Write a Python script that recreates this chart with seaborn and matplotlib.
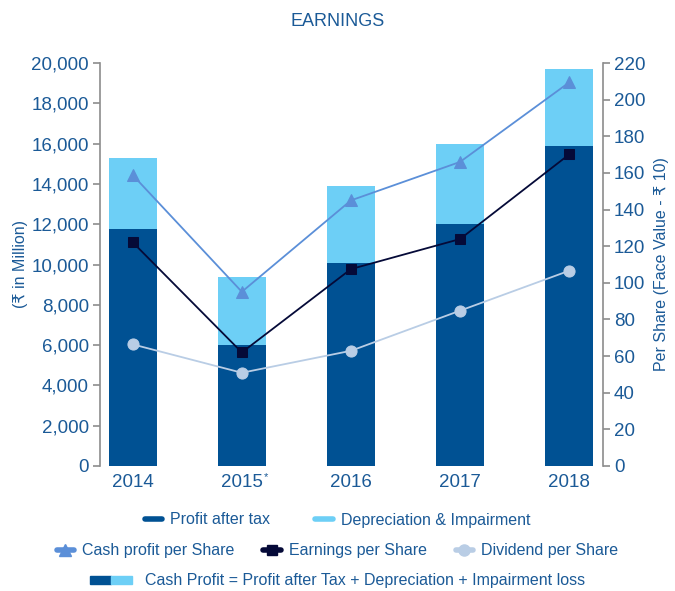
import matplotlib
matplotlib.use("Agg")
import matplotlib.pyplot as plt
import seaborn as sns
import pandas as pd
from matplotlib.lines import Line2D
from matplotlib.patches import Patch
from matplotlib.legend_handler import HandlerTuple

years = ["2014", "2015", "2016", "2017", "2018"]
profit_after_tax = [11760, 6000, 10090, 12000, 15900]
depreciation = [3520, 3380, 3810, 3980, 3800]
cash_profit_ps = [158.8, 95.1, 145.0, 166.0, 209.4]
eps = [122.1, 62.0, 107.5, 123.9, 170.1]
dps = [66.4, 50.9, 62.9, 84.8, 106.6]

DARK = "#005193"
LIGHT = "#6dcff6"
CASH = "#5b8fd8"
EPSC = "#050a38"
DPSC = "#b9cde5"
TXT = "#1b5a97"
GREY = "#8c8c8c"

sns.set_style("white")
plt.rcParams["font.family"] = ["Liberation Sans", "DejaVu Sans"]

df = pd.DataFrame({"Year": years, "PAT": profit_after_tax, "Dep": depreciation})
df["Total"] = df["PAT"] + df["Dep"]
ps = pd.DataFrame({"Year": years, "Cash": cash_profit_ps, "EPS": eps, "DPS": dps})

fig = plt.figure(figsize=(6.75, 5.91), dpi=100)
ax = fig.add_axes([100 / 675, 1 - 466 / 591, 503 / 675, 403 / 591])

sns.barplot(data=df, x="Year", y="Total", color=LIGHT, width=0.44, saturation=1,
            linewidth=0, ax=ax)
sns.barplot(data=df, x="Year", y="PAT", color=DARK, width=0.44, saturation=1,
            linewidth=0, ax=ax)

ax.set_ylim(0, 20000)
ax.set_xlim(-0.3, 4.31)
ax.set_yticks(range(0, 20001, 2000))
ax.set_yticklabels([f"{v:,}" for v in range(0, 20001, 2000)])
ax.set_xlabel("")
ax.set_ylabel("(₹ in Million)", color=TXT, fontsize=11.5, labelpad=2)
# footnote mark on 2015
ax.annotate("*", xy=(1, 0), xycoords=("data", "axes fraction"), xytext=(16, -4.5),
            textcoords="offset points", color=TXT, fontsize=8, ha="left", va="top")

ax2 = ax.twinx()
sns.lineplot(data=ps, x="Year", y="Cash", color=CASH, marker="^", markersize=8,
             markeredgecolor=CASH, linewidth=1.3, ax=ax2, sort=False)
sns.lineplot(data=ps, x="Year", y="EPS", color=EPSC, marker="s", markersize=7,
             markeredgecolor=EPSC, linewidth=1.3, ax=ax2, sort=False)
sns.lineplot(data=ps, x="Year", y="DPS", color=DPSC, marker="o", markersize=8,
             markeredgecolor=DPSC, linewidth=1.3, ax=ax2, sort=False)
ax2.set_ylim(0, 220)
ax2.set_xlim(-0.3, 4.31)
ax2.set_yticks(range(0, 221, 20))
ax2.set_xlabel("")
ax2.set_ylabel("Per Share (Face Value - ₹ 10)", color=TXT, fontsize=11.5, labelpad=6)

for a in (ax, ax2):
    a.spines["top"].set_visible(False)
    a.spines["bottom"].set_visible(False)
    a.spines["left"].set_color(GREY)
    a.spines["right"].set_color(GREY)
    a.spines["left"].set_linewidth(1.2)
    a.spines["right"].set_linewidth(1.2)
    a.tick_params(axis="y", colors=GREY, labelcolor=TXT, labelsize=13.5,
                  length=5, width=1.2, direction="out", pad=3)
    a.tick_params(axis="x", length=0, labelcolor=TXT, labelsize=13.5, pad=6)
ax.spines["right"].set_visible(False)
ax2.spines["left"].set_visible(False)

fig.text(0.5, 1 - 22 / 591, "EARNINGS", ha="center", va="center", color=TXT, fontsize=13)

leg_kw = dict(frameon=False, labelcolor=TXT, fontsize=11.5, handlelength=1.1,
              handletextpad=0.5, loc="center")
h1 = [Line2D([], [], color=DARK, lw=4), Line2D([], [], color=LIGHT, lw=4)]
fig.legend(h1, ["Profit after tax", "Depreciation & Impairment"], ncol=2,
           columnspacing=2.8, bbox_to_anchor=(0.5, 1 - 520 / 591), **leg_kw)

h2 = [Line2D([], [], color=CASH, lw=4, marker="^", markersize=8),
      Line2D([], [], color=EPSC, lw=4, marker="s", markersize=7),
      Line2D([], [], color=DPSC, lw=4, marker="o", markersize=8)]
fig.legend(h2, ["Cash profit per Share", "Earnings per Share", "Dividend per Share"],
           ncol=3, columnspacing=1.8, bbox_to_anchor=(0.5, 1 - 551 / 591), **leg_kw)

h3 = [(Patch(color=DARK), Patch(color=LIGHT))]
fig.legend(h3, ["Cash Profit = Profit after Tax + Depreciation + Impairment loss"],
           handler_map={tuple: HandlerTuple(ndivide=None, pad=0)},
           bbox_to_anchor=(0.5, 1 - 581 / 591), frameon=False, labelcolor=TXT,
           fontsize=11.5, handlelength=2.6, handleheight=0.45, handletextpad=0.8,
           loc="center")

fig.savefig("out.png", dpi=100)
